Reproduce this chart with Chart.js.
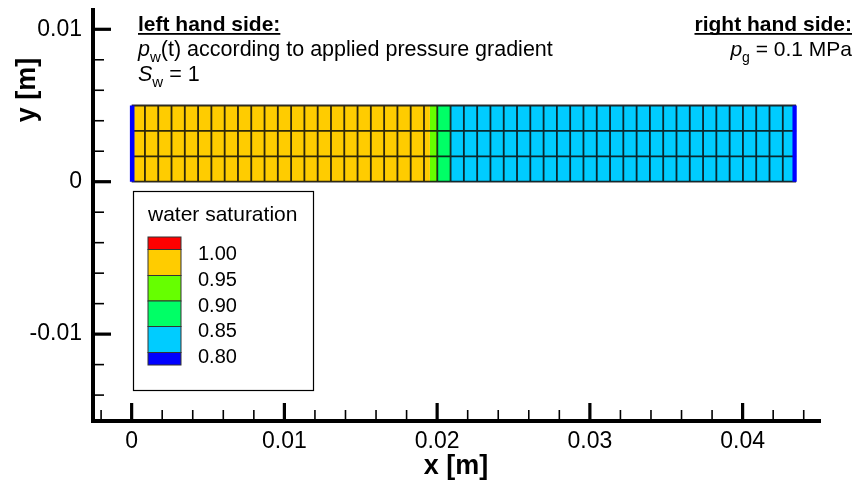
<!DOCTYPE html>
<html><head><meta charset="utf-8">
<script src="https://cdn.jsdelivr.net/npm/chart.js@4.4.1/dist/chart.umd.min.js"></script>
<style>html,body{margin:0;padding:0;background:#fff;}#wrap{width:857px;height:482px;position:relative;}</style>
</head><body><div id="wrap"><canvas id="c"></canvas></div>
<script>
// ---------------- data ----------------
const xTickValues = [0, 0.01, 0.02, 0.03, 0.04];
const xTickLabels = ['0', '0.01', '0.02', '0.03', '0.04'];
const yTickValues = [-0.01, 0, 0.01];
const yTickLabels = ['-0.01', '0', '0.01'];
// saturation bands along the column (x from / to, in m)
const bandStart = [0, 0.01953, 0.02001, 0.02088];
const bandEnd   = [0.01953, 0.02001, 0.02088, 0.0435];
const bandLevel = ['0.95-1.00', '0.90-0.95', '0.85-0.90', '0.80-0.85'];
// boundary cells (saturation below 0.80)
const boundaryStart = [-0.00013, 0.04325];
const boundaryEnd   = [0.00020, 0.04355];
const boundaryLevel = ['<0.80', '<0.80'];
// mesh
const meshLength = 0.0435, meshHeight = 0.005, meshCols = 50, meshRows = 3;
// legend levels
const legendLabels = ['1.00', '0.95', '0.90', '0.85', '0.80'];
const legendLevels = ['>1.00', '0.95-1.00', '0.90-0.95', '0.85-0.90', '0.80-0.85', '<0.80'];

// ---------------- styles ----------------
const levelColor = {
  '>1.00': '#ff0000', '0.95-1.00': '#ffcc00', '0.90-0.95': '#66ff00',
  '0.85-0.90': '#00ff66', '0.80-0.85': '#00ccff', '<0.80': '#0000ff'
};
const FONT = '"Liberation Sans", Arial, Helvetica, sans-serif';

const datasets = [];
bandStart.forEach((s, i) => {
  datasets.push({
    data: [{x: s, y: meshHeight}, {x: bandEnd[i], y: meshHeight}],
    fill: 'origin', backgroundColor: levelColor[bandLevel[i]],
    borderColor: 'rgba(0,0,0,0)', borderWidth: 0, pointRadius: 0, order: 3
  });
});
// mesh lines
const meshPts = [];
const dx = meshLength / meshCols, dy = meshHeight / meshRows;
for (let i = 1; i < meshCols; i++) {
  meshPts.push({x: i * dx, y: 0}, {x: i * dx, y: meshHeight}, {x: i * dx, y: null});
}
for (let j = 0; j <= meshRows; j++) {
  meshPts.push({x: 0, y: j * dy}, {x: meshLength, y: j * dy}, {x: meshLength, y: null});
}
datasets.push({
  data: meshPts, fill: false, borderColor: 'rgba(10,10,10,0.85)', borderWidth: 1.8,
  pointRadius: 0, spanGaps: false, order: 1
});
boundaryStart.forEach((s, i) => {
  datasets.push({
    data: [{x: s, y: meshHeight}, {x: boundaryEnd[i], y: meshHeight}],
    fill: 'origin', backgroundColor: levelColor[boundaryLevel[i]],
    borderColor: 'rgba(0,0,0,0)', borderWidth: 0, pointRadius: 0, order: 0
  });
});

function drawRich(ctx, parts, x, y, align, size) {
  const widths = parts.map(p => {
    ctx.font = (p.italic ? 'italic ' : '') + (p.sub ? Math.round(size * 0.68) : size) + 'px ' + FONT;
    return ctx.measureText(p.t).width;
  });
  const total = widths.reduce((a, b) => a + b, 0);
  let cx = align === 'right' ? x - total : x;
  ctx.textAlign = 'left'; ctx.textBaseline = 'alphabetic';
  parts.forEach((p, i) => {
    ctx.font = (p.italic ? 'italic ' : '') + (p.sub ? Math.round(size * 0.68) : size) + 'px ' + FONT;
    ctx.fillText(p.t, cx, y + (p.sub ? size * 0.27 : 0));
    cx += widths[i];
  });
}
function underlined(ctx, text, x, y, align, size) {
  ctx.font = 'bold ' + size + 'px ' + FONT;
  ctx.textAlign = align; ctx.textBaseline = 'alphabetic';
  ctx.fillText(text, x, y);
  const w = ctx.measureText(text).width;
  const x0 = align === 'right' ? x - w : x;
  ctx.fillRect(x0, y + 2, w, 1.8);
}

const decor = {
  id: 'decor',
  afterDraw(chart) {
    const ctx = chart.ctx, xs = chart.scales.x, ys = chart.scales.y;
    const ca = chart.chartArea;
    ctx.save();
    ctx.fillStyle = '#000'; ctx.strokeStyle = '#000';
    // inward tick marks on x axis
    for (let k = -1; k <= 22; k++) {
      const v = k * 0.002;
      const px = xs.getPixelForValue(v);
      const major = k % 5 === 0;
      ctx.lineWidth = major ? 3.2 : 1.6;
      ctx.beginPath(); ctx.moveTo(px, ca.bottom); ctx.lineTo(px, ca.bottom - (major ? 18 : 11)); ctx.stroke();
    }
    for (let k = -7; k <= 5; k++) {
      const v = k * 0.002;
      const py = ys.getPixelForValue(v);
      const major = k % 5 === 0;
      ctx.lineWidth = major ? 3.2 : 1.6;
      ctx.beginPath(); ctx.moveTo(ca.left, py); ctx.lineTo(ca.left + (major ? 18 : 11), py); ctx.stroke();
    }
    // axis titles
    ctx.font = 'bold 27px ' + FONT;
    ctx.textAlign = 'center'; ctx.textBaseline = 'middle';
    ctx.fillText('x [m]', 456, 467);
    ctx.save(); ctx.translate(28, 90); ctx.rotate(-Math.PI / 2);
    ctx.fillText('y [m]', 0, 0); ctx.restore();
    // boundary condition texts
    underlined(ctx, 'left hand side:', 138, 31, 'left', 21);
    drawRich(ctx, [{t: 'p', italic: true}, {t: 'w', sub: true}, {t: '(t) according to applied pressure gradient'}], 138, 56, 'left', 21.5);
    drawRich(ctx, [{t: 'S', italic: true}, {t: 'w', sub: true}, {t: ' = 1'}], 138, 81, 'left', 21.5);
    underlined(ctx, 'right hand side:', 852, 31, 'right', 21);
    drawRich(ctx, [{t: 'p', italic: true}, {t: 'g', sub: true}, {t: ' = 0.1 MPa'}], 852, 56, 'right', 21);
    // legend box
    ctx.fillStyle = '#fff';
    ctx.fillRect(133.5, 191.5, 180, 199);
    ctx.lineWidth = 1.2; ctx.strokeStyle = '#000';
    ctx.strokeRect(133.5, 191.5, 180, 199);
    ctx.fillStyle = '#000';
    ctx.font = '21px ' + FONT; ctx.textAlign = 'left'; ctx.textBaseline = 'middle';
    ctx.fillText('water saturation', 148, 215);
    const edges = [237, 249.5, 275.5, 301, 326.5, 352.5, 365];
    legendLevels.forEach((lv, i) => {
      ctx.fillStyle = levelColor[lv];
      ctx.fillRect(148, edges[i], 33, edges[i + 1] - edges[i]);
      ctx.strokeStyle = '#333'; ctx.lineWidth = 1;
      ctx.strokeRect(148, edges[i], 33, edges[i + 1] - edges[i]);
    });
    ctx.fillStyle = '#000'; ctx.font = '20px ' + FONT;
    legendLabels.forEach((t, i) => ctx.fillText(t, 198, edges[i + 1] + 5));
    ctx.restore();
  }
};

function noPad(s) { s.paddingTop = 0; s.paddingBottom = 0; s.paddingLeft = 0; s.paddingRight = 0; }

new Chart(document.getElementById('c'), {
  type: 'line',
  data: {datasets},
  options: {
    responsive: true, maintainAspectRatio: false, animation: false,
    events: [],
    layout: {padding: {left: 0, right: 38, top: 10, bottom: 0}},
    plugins: {legend: {display: false}, tooltip: {enabled: false}},
    elements: {line: {tension: 0}},
    scales: {
      x: {
        type: 'linear', min: -0.00253, max: 0.045,
        afterBuildTicks: s => { s.ticks = xTickValues.map(v => ({value: v})); },
        afterFit: s => { s.height = 61; noPad(s); },
        ticks: {autoSkip: false, maxRotation: 0, padding: 7, color: '#000',
          font: {family: FONT, size: 23}, callback: (v, i) => xTickLabels[i]},
        grid: {display: true, drawOnChartArea: false, drawTicks: false, color: '#000', lineWidth: 4},
        border: {display: true, color: '#000', width: 4}
      },
      y: {
        type: 'linear', min: -0.0157, max: 0.011266,
        afterBuildTicks: s => { s.ticks = yTickValues.map(v => ({value: v})); },
        afterFit: s => { s.width = 93; noPad(s); },
        ticks: {autoSkip: false, padding: 11, color: '#000',
          font: {family: FONT, size: 23}, callback: (v, i) => yTickLabels[i]},
        grid: {display: true, drawOnChartArea: false, drawTicks: false, color: '#000', lineWidth: 4},
        border: {display: true, color: '#000', width: 4}
      }
    }
  },
  plugins: [decor]
});
</script></body></html>
